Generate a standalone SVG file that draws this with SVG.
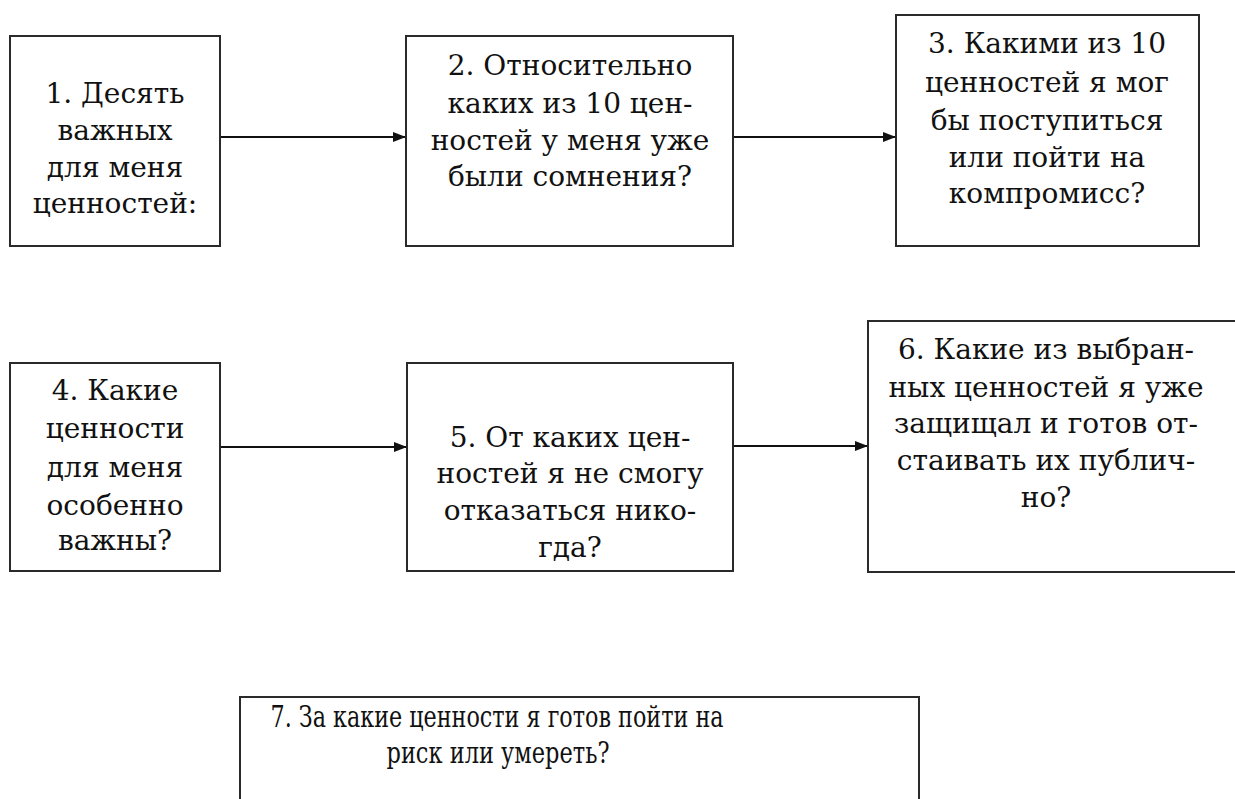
<svg xmlns="http://www.w3.org/2000/svg" width="1235" height="799" viewBox="0 0 1235 799">
<style>
.box{fill:#fff;stroke:#2a2a2a;stroke-width:2}
.t{font-family:"DejaVu Serif","Liberation Serif",serif;font-size:28px;fill:#111;text-anchor:middle}
.t7{font-size:30px}
.c{stroke:#111;stroke-width:2;fill:none}
</style>
<defs>
<marker id="ah" viewBox="0 0 13 10" refX="13" refY="5" markerWidth="13" markerHeight="10" markerUnits="userSpaceOnUse" orient="auto">
<path d="M0,0 L13,5 L0,10 z" fill="#111"/>
</marker>
</defs>
<rect width="1235" height="799" fill="#fff"/>
<g id="connectors">
<line class="c" x1="220" y1="137" x2="406" y2="137" marker-end="url(#ah)"/>
<line class="c" x1="733" y1="137" x2="896" y2="137" marker-end="url(#ah)"/>
<line class="c" x1="220" y1="447" x2="407" y2="447" marker-end="url(#ah)"/>
<line class="c" x1="733" y1="446" x2="868" y2="446" marker-end="url(#ah)"/>
</g>
<g id="node1">
<rect class="box" x="10" y="36" width="210" height="210"/>
<text class="t"><tspan x="115" y="103">1. Десять</tspan><tspan x="115" y="140">важных</tspan><tspan x="115" y="177">для меня</tspan><tspan x="115" y="213">ценностей:</tspan></text>
</g>
<g id="node2">
<rect class="box" x="406" y="36" width="327" height="210"/>
<text class="t"><tspan x="570" y="75">2. Относительно</tspan><tspan x="570" y="113">каких из 10 цен-</tspan><tspan x="570" y="150">ностей у меня уже</tspan><tspan x="570" y="186">были сомнения?</tspan></text>
</g>
<g id="node3">
<rect class="box" x="896" y="15" width="303" height="231"/>
<text class="t"><tspan x="1047" y="53">3. Какими из 10</tspan><tspan x="1047" y="92">ценностей я мог</tspan><tspan x="1047" y="130">бы поступиться</tspan><tspan x="1047" y="167">или пойти на</tspan><tspan x="1047" y="203">компромисс?</tspan></text>
</g>
<g id="node4">
<rect class="box" x="10" y="363" width="210" height="208"/>
<text class="t"><tspan x="115" y="400">4. Какие</tspan><tspan x="115" y="438">ценности</tspan><tspan x="115" y="477">для меня</tspan><tspan x="115" y="515">особенно</tspan><tspan x="115" y="550">важны?</tspan></text>
</g>
<g id="node5">
<rect class="box" x="407" y="363" width="326" height="208"/>
<text class="t"><tspan x="570" y="447">5. От каких цен-</tspan><tspan x="570" y="483">ностей я не смогу</tspan><tspan x="570" y="520">отказаться нико-</tspan><tspan x="570" y="557">гда?</tspan></text>
</g>
<g id="node6">
<rect class="box" x="868" y="321" width="380" height="251"/>
<text class="t"><tspan x="1046" y="359">6. Какие из выбран-</tspan><tspan x="1046" y="397">ных ценностей я уже</tspan><tspan x="1046" y="433">защищал и готов от-</tspan><tspan x="1046" y="470">стаивать их публич-</tspan><tspan x="1046" y="507">но?</tspan></text>
</g>
<g id="node7">
<rect class="box" x="240" y="697" width="679" height="130"/>
<text class="t t7" x="497" y="727" textLength="453" lengthAdjust="spacingAndGlyphs">7. За какие ценности я готов пойти на</text>
<text class="t t7" x="498" y="763" textLength="223" lengthAdjust="spacingAndGlyphs">риск или умереть?</text>
</g>
</svg>
